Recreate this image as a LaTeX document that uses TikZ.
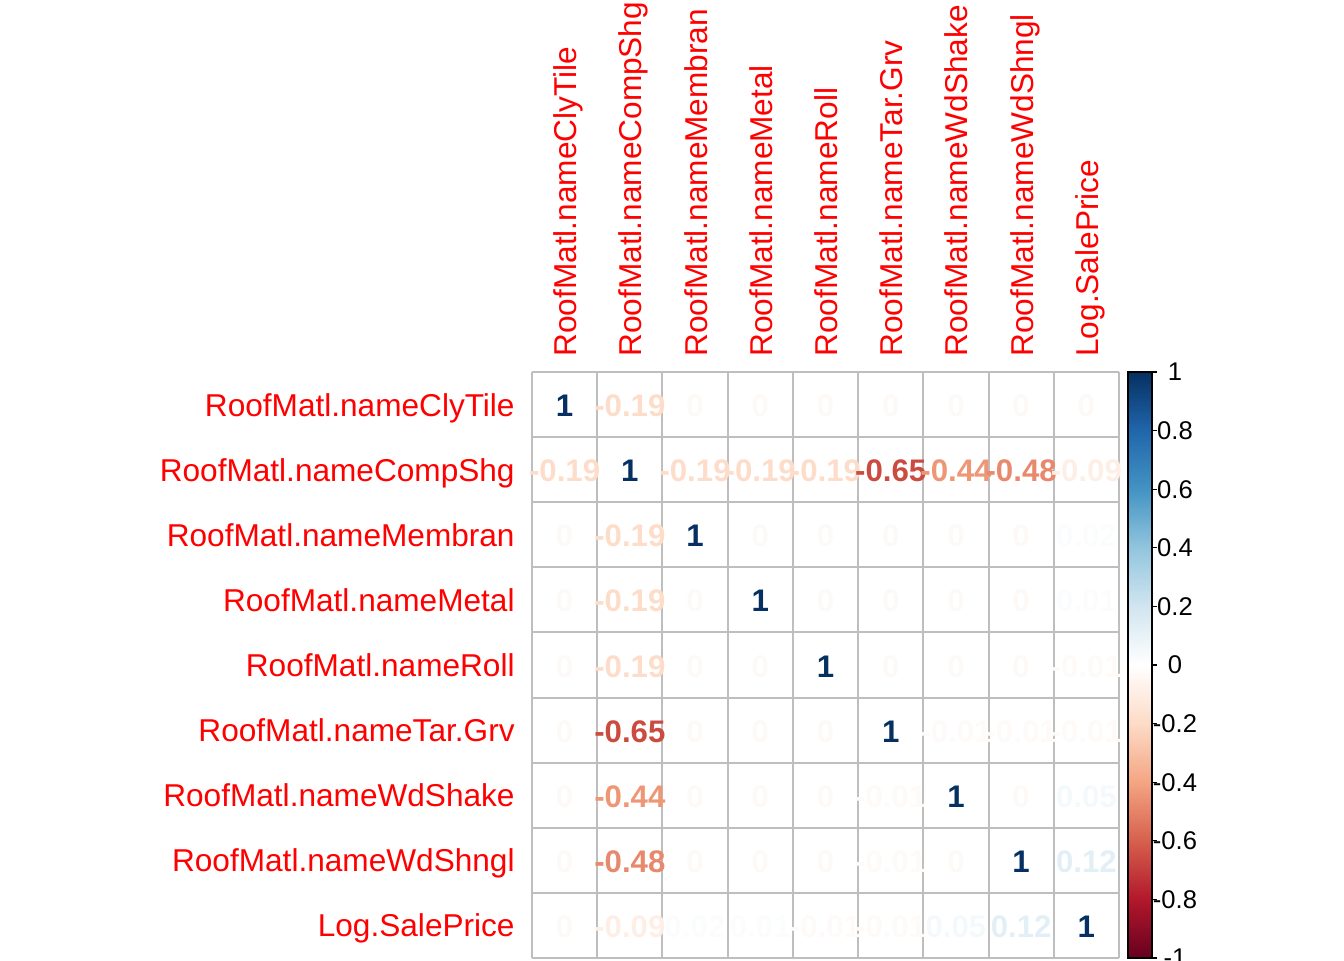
\documentclass[tikz,border=0pt]{standalone}
\usepackage{fontspec}
\setmainfont{Liberation Sans}
% colours of the correlation values
\definecolor{cone}{HTML}{053061}
\definecolor{cm19}{HTML}{FDDDCA}
\definecolor{cm65}{HTML}{CB4B40}
\definecolor{cm44}{HTML}{EE9777}
\definecolor{cm48}{HTML}{E8896D}
\definecolor{cm09}{HTML}{FEEFE6}
\definecolor{cp12}{HTML}{E3EFF6}
\definecolor{cp05}{HTML}{F4F9FB}
\definecolor{cp02}{HTML}{FAFCFD}
\definecolor{cp01}{HTML}{FBFCFD}
\definecolor{cm01}{HTML}{FDFAF8}
\definecolor{czero}{HTML}{FCF9F7}
\definecolor{gridgray}{HTML}{BEBEBE}
\definecolor{barA}{HTML}{053061}
\definecolor{barB}{HTML}{2166AC}
\definecolor{barC}{HTML}{4393C3}
\definecolor{barD}{HTML}{92C5DE}
\definecolor{barE}{HTML}{D1E5F0}
\definecolor{barF}{HTML}{FFFFFF}
\definecolor{barG}{HTML}{FDDBC7}
\definecolor{barH}{HTML}{F4A582}
\definecolor{barI}{HTML}{D6604D}
\definecolor{barJ}{HTML}{B2182B}
\definecolor{barK}{HTML}{67001F}
\tikzset{
  rowlab/.style={anchor=base east,inner sep=0pt,text=red,font=\fontsize{15.8}{18}\selectfont},
  collab/.style={anchor=base west,inner sep=0pt,rotate=90,text=red,font=\fontsize{15.8}{18}\selectfont},
  corrval/.style={anchor=base,inner sep=0pt,font=\fontsize{15.6}{18}\selectfont\bfseries},
  barlab/.style={anchor=center,inner sep=0pt,font=\fontsize{12.8}{15}\selectfont}
}
\begin{document}
\begin{tikzpicture}[x=0.5pt,y=-0.5pt]
\useasboundingbox (0,0) rectangle (1344,960);
% grid
\foreach \k in {0,...,9} {
  \draw [gridgray,line width=1pt] (532+\k*65.22,372) -- (532+\k*65.22,958);
  \draw [gridgray,line width=1pt] (532,372+\k*65.11) -- (1119,372+\k*65.11);
}
% labels
\foreach \name [count=\i] in {RoofMatl.nameClyTile,RoofMatl.nameCompShg,RoofMatl.nameMembran,RoofMatl.nameMetal,RoofMatl.nameRoll,RoofMatl.nameTar.Grv,RoofMatl.nameWdShake,RoofMatl.nameWdShngl,Log.SalePrice} {
  \node (r\i) [rowlab] at (515,372+\i*65.11-32.55+11.5) {\name};
  \node (c\i) [collab] at (532+\i*65.22-32.61+12,357) {\name};
}
% values
\foreach \row [count=\i] in {
  {1/cone,-0.19/cm19,0/czero,0/czero,0/czero,0/czero,0/czero,0/czero,0/czero},
  {-0.19/cm19,1/cone,-0.19/cm19,-0.19/cm19,-0.19/cm19,-0.65/cm65,-0.44/cm44,-0.48/cm48,-0.09/cm09},
  {0/czero,-0.19/cm19,1/cone,0/czero,0/czero,0/czero,0/czero,0/czero,0.02/cp02},
  {0/czero,-0.19/cm19,0/czero,1/cone,0/czero,0/czero,0/czero,0/czero,0.01/cp01},
  {0/czero,-0.19/cm19,0/czero,0/czero,1/cone,0/czero,0/czero,0/czero,-0.01/cm01},
  {0/czero,-0.65/cm65,0/czero,0/czero,0/czero,1/cone,-0.01/cm01,-0.01/cm01,-0.01/cm01},
  {0/czero,-0.44/cm44,0/czero,0/czero,0/czero,-0.01/cm01,1/cone,0/czero,0.05/cp05},
  {0/czero,-0.48/cm48,0/czero,0/czero,0/czero,-0.01/cm01,0/czero,1/cone,0.12/cp12},
  {0/czero,-0.09/cm09,0.02/cp02,0.01/cp01,-0.01/cm01,-0.01/cm01,0.05/cp05,0.12/cp12,1/cone}} {
  \foreach \v/\c [count=\j] in \row {
    \node (v\i-\j) [corrval,text=\c] at (532+\j*65.22-32.61,372+\i*65.11-32.55+12) {\v};
  }
}
% colour bar
\foreach \ca/\cb [count=\k from 0] in {barA/barB,barB/barC,barC/barD,barD/barE,barE/barF,barF/barG,barG/barH,barH/barI,barI/barJ,barJ/barK} {
  \shade [top color=\ca,bottom color=\cb] (1128,372+\k*58.6) rectangle (1152,372+\k*58.6+58.6);
}
\draw [line width=0.6pt] (1128,372) rectangle (1152,958);
\foreach \t [count=\k from 0] in {1,0.8,0.6,0.4,0.2,0,-0.2,-0.4,-0.6,-0.8,-1} {
  \draw [line width=0.6pt] (1152,372+\k*58.6) -- (1157,372+\k*58.6);
  \node (t\k) [barlab] at (1175,372+\k*58.6) {\t};
}
\end{tikzpicture}
\end{document}
